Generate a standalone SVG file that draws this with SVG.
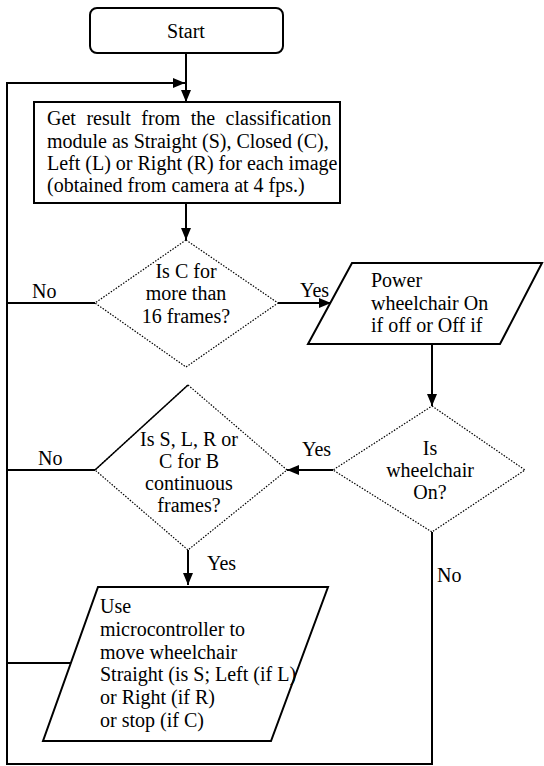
<svg xmlns="http://www.w3.org/2000/svg" width="544" height="766" viewBox="0 0 544 766">
<style>
text{font-family:"Liberation Serif","Times New Roman",serif;font-size:20px;fill:#000}
.c{text-anchor:middle}
.box{fill:#fff;stroke:#000;stroke-width:2}
.dot{fill:#fff;stroke:#000;stroke-width:1.2;stroke-dasharray:1.5 1.5}
.ln{fill:none;stroke:#000;stroke-width:2}
</style>
<defs>
<marker id="ah" viewBox="0 0 12 10" refX="12" refY="5" markerWidth="12" markerHeight="10" markerUnits="userSpaceOnUse" orient="auto">
<path d="M0,0 L12,5 L0,10 Z" fill="#000"/>
</marker>
</defs>
<g id="connectors">
<line class="ln" x1="186" y1="53" x2="186" y2="102" marker-end="url(#ah)"/>
<polyline class="ln" points="95,303 7,303 7,83 185,83" marker-end="url(#ah)"/>
<line class="ln" x1="186" y1="203" x2="186" y2="240" marker-end="url(#ah)"/>
<line class="ln" x1="278" y1="303" x2="331" y2="303" marker-end="url(#ah)"/>
<line class="ln" x1="432" y1="344" x2="432" y2="406" marker-end="url(#ah)"/>
<line class="ln" x1="333" y1="470" x2="287" y2="470" marker-end="url(#ah)"/>
<line class="ln" x1="95" y1="470" x2="7" y2="470"/>
<line class="ln" x1="188" y1="550" x2="188" y2="585" marker-end="url(#ah)"/>
<line class="ln" x1="72" y1="663" x2="7" y2="663"/>
<polyline class="ln" points="432,532 432,764 7,764 7,300"/>
<text x="32" y="298">No</text>
<text x="300" y="297">Yes</text>
<text x="302" y="456">Yes</text>
<text x="38" y="465">No</text>
<text x="207" y="570">Yes</text>
<text x="437" y="582">No</text>
</g>
<g id="start">
<rect class="box" x="90" y="8" width="193" height="45" rx="7"/>
<text class="c" x="186" y="38">Start</text>
</g>
<g id="get-result">
<rect class="box" x="34" y="102" width="306" height="101"/>
<text x="47" y="125" word-spacing="5.5">Get result from the classification</text>
<text x="47" y="148">module as Straight (S), Closed (C),</text>
<text x="47" y="170">Left (L) or Right (R) for each image</text>
<text x="47" y="192">(obtained from camera at 4 fps.)</text>
</g>
<g id="is-c">
<polygon class="dot" points="186,240 278,303 186,367 95,303"/>
<text class="c" x="186" y="278">Is C for</text>
<text class="c" x="186" y="300">more than</text>
<text class="c" x="186" y="323">16 frames?</text>
</g>
<g id="power">
<polygon class="box" points="352,263 542,263 500,344 308,344"/>
<text x="371" y="287">Power</text>
<text x="371" y="310">wheelchair On</text>
<text x="371" y="332">if off or Off if</text>
</g>
<g id="is-on">
<polygon class="dot" points="432,406 525,470 432,532 333,470"/>
<text class="c" x="430" y="455">Is</text>
<text class="c" x="430" y="477">wheelchair</text>
<text class="c" x="430" y="499">On?</text>
</g>
<g id="is-slrc">
<polygon class="dot" points="188,385 287,470 188,550 95,470"/>
<line x1="95" y1="470" x2="188" y2="385" stroke="#000" stroke-width="1.5"/>
<text class="c" x="189" y="446">Is S, L, R or</text>
<text class="c" x="189" y="468">C for B</text>
<text class="c" x="189" y="490">continuous</text>
<text class="c" x="189" y="512">frames?</text>
</g>
<g id="use-mc">
<polygon class="box" points="98,587 328,587 271,741 43,741"/>
<text x="100" y="613">Use</text>
<text x="100" y="636">microcontroller to</text>
<text x="100" y="659">move wheelchair</text>
<text x="100" y="681">Straight (is S; Left (if L)</text>
<text x="100" y="704">or Right (if R)</text>
<text x="100" y="727">or stop (if C)</text>
</g>
</svg>
